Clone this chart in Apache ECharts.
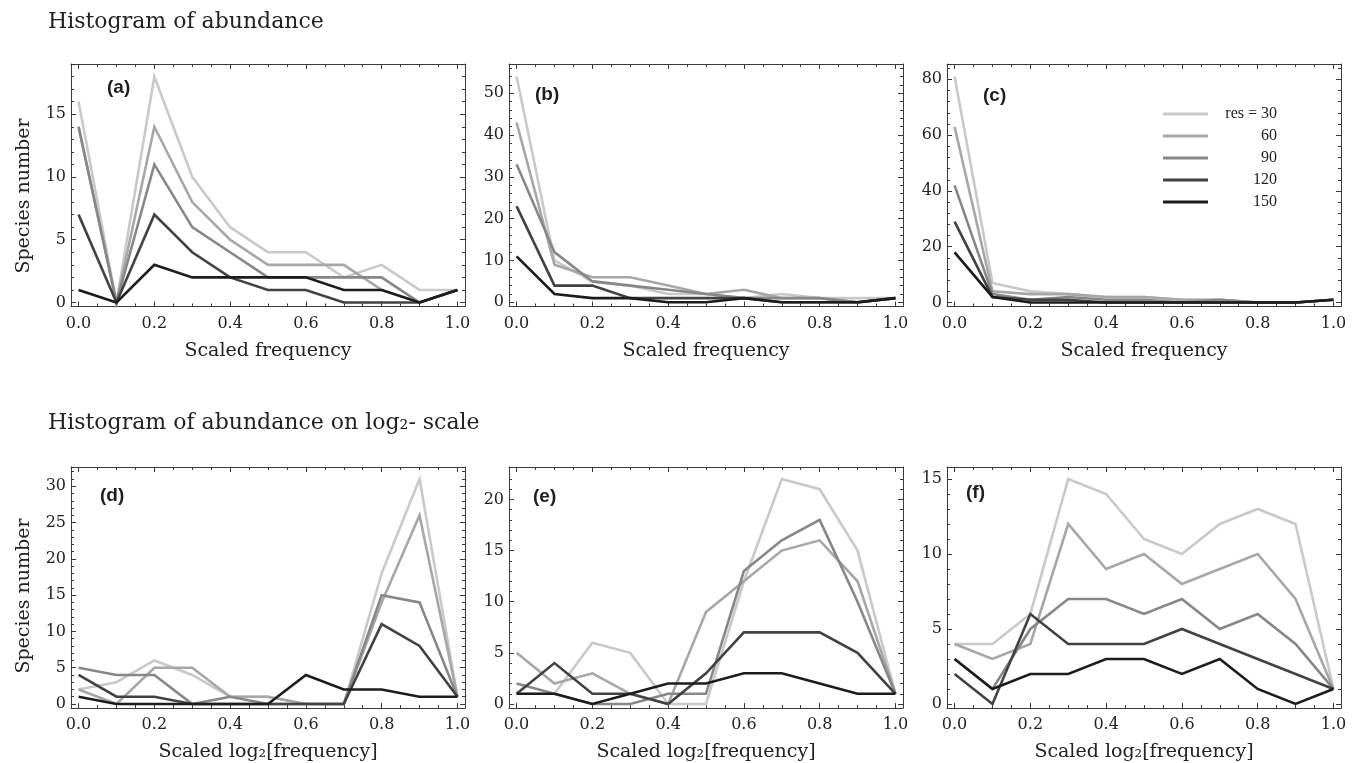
<!DOCTYPE html>
<html><head><meta charset="utf-8">
<script src="https://cdn.jsdelivr.net/npm/echarts@6/dist/echarts.min.js"></script>
<style>html,body{margin:0;padding:0;background:#fff}#c{width:1358px;height:763px}</style>
</head><body><div id="c"></div>
<script>
// ---------- data ----------
const xValues = [0, 0.1, 0.2, 0.3, 0.4, 0.5, 0.6, 0.7, 0.8, 0.9, 1.0];
const resLabels = ['res = 30', '60', '90', '120', '150'];

// (a) Histogram of abundance
const a_res30  = [16, 0, 18, 10, 6, 4, 4, 2, 3, 1, 1];
const a_res60  = [14, 0, 14, 8, 5, 3, 3, 3, 1, 0, 1];
const a_res90  = [14, 0, 11, 6, 4, 2, 2, 2, 2, 0, 1];
const a_res120 = [7, 0, 7, 4, 2, 1, 1, 0, 0, 0, 1];
const a_res150 = [1, 0, 3, 2, 2, 2, 2, 1, 1, 0, 1];
// (b)
const b_res30  = [54, 10, 5, 4, 2, 2, 1, 2, 1, 1, 1];
const b_res60  = [43, 9, 6, 6, 4, 2, 3, 1, 1, 0, 1];
const b_res90  = [33, 12, 5, 4, 3, 2, 1, 1, 1, 0, 1];
const b_res120 = [23, 4, 4, 1, 1, 1, 1, 0, 0, 0, 1];
const b_res150 = [11, 2, 1, 1, 0, 0, 1, 0, 0, 0, 1];
// (c)
const c_res30  = [81, 7, 4, 3, 2, 2, 1, 1, 0, 0, 1];
const c_res60  = [63, 4, 3, 3, 2, 2, 1, 1, 0, 0, 1];
const c_res90  = [42, 3, 1, 2, 1, 1, 0, 1, 0, 0, 1];
const c_res120 = [29, 2, 1, 1, 0, 0, 0, 0, 0, 0, 1];
const c_res150 = [18, 2, 0, 0, 0, 0, 0, 0, 0, 0, 1];
// (d) Histogram of abundance on log2 scale
const d_res30  = [2, 3, 6, 4, 1, 1, 0, 0, 18, 31, 1];
const d_res60  = [2, 0, 5, 5, 1, 1, 0, 0, 14, 26, 1];
const d_res90  = [5, 4, 4, 0, 1, 0, 0, 0, 15, 14, 1];
const d_res120 = [4, 1, 1, 0, 0, 0, 0, 0, 11, 8, 1];
const d_res150 = [1, 0, 0, 0, 0, 0, 4, 2, 2, 1, 1];
// (e)
const e_res30  = [1, 1, 6, 5, 0, 0, 12, 22, 21, 15, 1];
const e_res60  = [5, 2, 3, 1, 0, 9, 12, 15, 16, 12, 1];
const e_res90  = [2, 1, 0, 0, 1, 1, 13, 16, 18, 10, 1];
const e_res120 = [1, 4, 1, 1, 0, 3, 7, 7, 7, 5, 1];
const e_res150 = [1, 1, 0, 1, 2, 2, 3, 3, 2, 1, 1];
// (f)
const f_res30  = [4, 4, 6, 15, 14, 11, 10, 12, 13, 12, 1];
const f_res60  = [4, 3, 4, 12, 9, 10, 8, 9, 10, 7, 1];
const f_res90  = [3, 1, 5, 7, 7, 6, 7, 5, 6, 4, 1];
const f_res120 = [2, 0, 6, 4, 4, 4, 5, 4, 3, 2, 1];
const f_res150 = [3, 1, 2, 2, 3, 3, 2, 3, 1, 0, 1];

// tick labels
const xTickLabels = [0, 0.2, 0.4, 0.6, 0.8, 1.0];
const xMinorTicks = [0.05, 0.1, 0.15, 0.25, 0.3, 0.35, 0.45, 0.5, 0.55, 0.65, 0.7, 0.75, 0.85, 0.9, 0.95];
const aYTicks = [0, 5, 10, 15];
const bYTicks = [0, 10, 20, 30, 40, 50];
const cYTicks = [0, 20, 40, 60, 80];
const dYTicks = [0, 5, 10, 15, 20, 25, 30];
const eYTicks = [0, 5, 10, 15, 20];
const fYTicks = [0, 5, 10, 15];

// ---------- layout / style ----------
const lineColors = ['#c9c9c9', '#a7a7a7', '#878787', '#424242', '#1c1c1c'];
const serif = 'DejaVu Serif';
const ink = '#222';
const frame = '#3a3a3a';

const panels = [
  { label: '(a)', lx: 107, ly: 88, series: [a_res30, a_res60, a_res90, a_res120, a_res150], yTicks: aYTicks, yMinorStep: 1, yMin: -0.32, yMax: 19.0, grid: { left: 71, top: 64, width: 394, height: 242.5 }, xName: 'Scaled frequency' },
  { label: '(b)', lx: 535, ly: 95, series: [b_res30, b_res60, b_res90, b_res120, b_res150], yTicks: bYTicks, yMinorStep: 2, yMin: -1.0, yMax: 57.0, grid: { left: 509, top: 64, width: 394, height: 242.5 }, xName: 'Scaled frequency' },
  { label: '(c)', lx: 983, ly: 96, series: [c_res30, c_res60, c_res90, c_res120, c_res150], yTicks: cYTicks, yMinorStep: 4, yMin: -1.43, yMax: 85.5, grid: { left: 947, top: 64, width: 394, height: 242.5 }, xName: 'Scaled frequency' },
  { label: '(d)', lx: 100, ly: 496, series: [d_res30, d_res60, d_res90, d_res120, d_res150], yTicks: dYTicks, yMinorStep: 1, yMin: -0.55, yMax: 32.65, grid: { left: 71, top: 467, width: 394, height: 241 }, xName: 'Scaled log\u2082[frequency]' },
  { label: '(e)', lx: 533, ly: 497, series: [e_res30, e_res60, e_res90, e_res120, e_res150], yTicks: eYTicks, yMinorStep: 1, yMin: -0.39, yMax: 23.17, grid: { left: 509, top: 467, width: 394, height: 241 }, xName: 'Scaled log\u2082[frequency]' },
  { label: '(f)', lx: 966, ly: 493, series: [f_res30, f_res60, f_res90, f_res120, f_res150], yTicks: fYTicks, yMinorStep: 1, yMin: -0.27, yMax: 15.8, grid: { left: 947, top: 467, width: 394, height: 241 }, xName: 'Scaled log\u2082[frequency]' }
];

function minorList(major, step, max) {
  const out = [];
  for (let v = step; v < max - 0.3 * step; v += step) {
    const r = Math.round(v * 1000) / 1000;
    if (!major.includes(r)) out.push(r);
  }
  return out;
}

const grids = [], xAxes = [], yAxes = [], series = [];
const tickStyle = { color: frame, width: 1 };

panels.forEach((p, gi) => {
  grids.push(Object.assign({ containLabel: false }, p.grid));
  const xBase = { type: 'value', gridIndex: gi, min: -0.02, max: 1.02, splitLine: { show: false }, silent: true };
  xAxes.push(Object.assign({}, xBase, {
    position: 'bottom',
    axisLine: { show: true, onZero: false, lineStyle: tickStyle },
    axisTick: { show: true, inside: true, length: 5, lineStyle: tickStyle, customValues: xTickLabels },
    axisLabel: { show: true, customValues: xTickLabels, margin: 9, fontFamily: serif, fontSize: 16, color: ink, formatter: v => Number(v).toFixed(1) },
    name: p.xName, nameLocation: 'middle', nameGap: 35,
    nameTextStyle: { fontFamily: serif, fontSize: 19, color: ink }
  }));
  xAxes.push(Object.assign({}, xBase, {
    position: 'bottom',
    axisLine: { show: false, onZero: false },
    axisTick: { show: true, inside: true, length: 3, lineStyle: tickStyle, customValues: xMinorTicks },
    axisLabel: { show: false }
  }));
  xAxes.push(Object.assign({}, xBase, {
    position: 'top',
    axisLine: { show: true, onZero: false, lineStyle: tickStyle },
    axisTick: { show: true, inside: true, length: 5, lineStyle: tickStyle, customValues: xTickLabels },
    axisLabel: { show: false }
  }));
  xAxes.push(Object.assign({}, xBase, {
    position: 'top',
    axisLine: { show: false, onZero: false },
    axisTick: { show: true, inside: true, length: 3, lineStyle: tickStyle, customValues: xMinorTicks },
    axisLabel: { show: false }
  }));

  const yMinor = minorList(p.yTicks, p.yMinorStep, p.yMax);
  const yBase = { type: 'value', gridIndex: gi, min: p.yMin, max: p.yMax, splitLine: { show: false }, silent: true };
  yAxes.push(Object.assign({}, yBase, {
    position: 'left',
    axisLine: { show: true, onZero: false, lineStyle: tickStyle },
    axisTick: { show: true, inside: true, length: 5, lineStyle: tickStyle, customValues: p.yTicks },
    axisLabel: { show: true, customValues: p.yTicks, margin: 5, fontFamily: serif, fontSize: 16, color: ink }
  }));
  yAxes.push(Object.assign({}, yBase, {
    position: 'left',
    axisLine: { show: false, onZero: false },
    axisTick: { show: true, inside: true, length: 3, lineStyle: tickStyle, customValues: yMinor },
    axisLabel: { show: false }
  }));
  yAxes.push(Object.assign({}, yBase, {
    position: 'right',
    axisLine: { show: true, onZero: false, lineStyle: tickStyle },
    axisTick: { show: true, inside: true, length: 5, lineStyle: tickStyle, customValues: p.yTicks },
    axisLabel: { show: false }
  }));
  yAxes.push(Object.assign({}, yBase, {
    position: 'right',
    axisLine: { show: false, onZero: false },
    axisTick: { show: true, inside: true, length: 3, lineStyle: tickStyle, customValues: yMinor },
    axisLabel: { show: false }
  }));

  p.series.forEach((vals, si) => {
    series.push({
      type: 'line', name: resLabels[si],
      xAxisIndex: gi * 4, yAxisIndex: gi * 4,
      data: xValues.map((x, i) => [x, vals[i]]),
      symbol: 'none', showSymbol: false, silent: true,
      color: lineColors[si],
      lineStyle: { width: 2.6, color: lineColors[si], join: 'miter' },
      z: 2 + si
    });
  });
});

const graphics = [
  { type: 'text', x: 48, y: 22, style: { text: 'Histogram of abundance', fontFamily: serif, fontSize: 22, fill: ink, align: 'left', verticalAlign: 'middle' } },
  { type: 'text', x: 48, y: 423, style: { text: 'Histogram of abundance on log\u2082- scale', fontFamily: serif, fontSize: 22, fill: ink, align: 'left', verticalAlign: 'middle' } },
  { type: 'text', x: 24, y: 196, rotation: Math.PI / 2, style: { text: 'Species number', fontFamily: serif, fontSize: 19, fill: ink, align: 'center', verticalAlign: 'middle' } },
  { type: 'text', x: 24, y: 596, rotation: Math.PI / 2, style: { text: 'Species number', fontFamily: serif, fontSize: 19, fill: ink, align: 'center', verticalAlign: 'middle' } }
];
panels.forEach(p => {
  graphics.push({ type: 'text', x: p.lx, y: p.ly, z: 100, style: { text: p.label, fontFamily: 'Liberation Sans', fontWeight: 'bold', fontSize: 19, fill: '#1e1e1e', align: 'left', verticalAlign: 'middle' } });
});

const chart = echarts.init(document.getElementById('c'), null, { renderer: 'canvas' });
chart.setOption({
  animation: false,
  backgroundColor: '#fff',
  grid: grids,
  xAxis: xAxes,
  yAxis: yAxes,
  series: series,
  graphic: graphics,
  legend: {
    data: resLabels,
    orient: 'vertical',
    left: 1163, top: 106,
    padding: 0,
    itemWidth: 45, itemHeight: 3, itemGap: 6,
    icon: 'rect',
    selectedMode: false,
    formatter: n => '{t|' + n + '}',
    textStyle: {
      rich: { t: { width: 64, align: 'right', fontFamily: 'Liberation Serif', fontSize: 16, color: ink, lineHeight: 16 } }
    }
  }
});
</script></body></html>
